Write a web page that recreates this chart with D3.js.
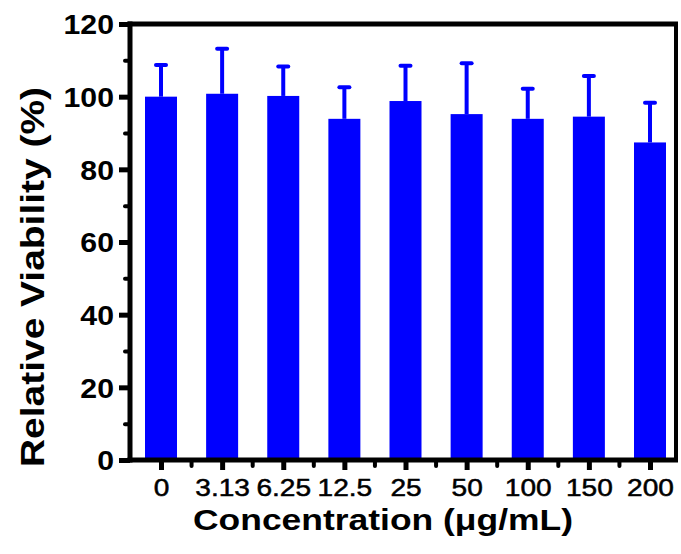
<!DOCTYPE html>
<html>
<head>
<meta charset="utf-8">
<script src="https://cdn.jsdelivr.net/npm/d3@7"></script>
<style>
  html, body { margin: 0; padding: 0; background: #fff; }
  svg { display: block; }
</style>
</head>
<body>
<svg id="chart" width="681" height="554"></svg>
<script>
const categories = ["0", "3.13", "6.25", "12.5", "25", "50", "100", "150", "200"];
const viability = [100, 100.8, 100.2, 93.9, 98.8, 95.2, 93.9, 94.5, 87.4];
const errorUp = [8.7, 12.4, 8.1, 8.7, 9.7, 14.0, 8.3, 11.2, 10.9];
const yMajorTicks = [0, 20, 40, 60, 80, 100, 120];
const yMinorTicks = [10, 30, 50, 70, 90, 110];
const xTitle = "Concentration (\u03bcg/mL)";
const yTitle = "Relative Viability (%)";

(function () {
const svg = d3.select("#chart");
const pL = 130, pR = 676, pT = 24, pB = 460;
const font = "'Liberation Sans', Arial, sans-serif";
const blue = "#0000ff";

const y = d3.scaleLinear().domain([0, 120]).range([pB, pT]);
const x = d3.scalePoint().domain(categories).range([161, 650]);
const barW = 32;

function widen(sel, k) {
  sel.each(function () {
    const w = this.getComputedTextLength();
    d3.select(this).attr("textLength", w * k).attr("lengthAdjust", "spacingAndGlyphs");
  });
}

// bars
svg.append("g").selectAll("rect").data(categories).join("rect")
  .attr("x", d => x(d) - barW / 2)
  .attr("width", barW)
  .attr("y", (d, i) => y(viability[i]))
  .attr("height", (d, i) => y(0) - y(viability[i]))
  .attr("fill", blue);

// error bars
const eb = svg.append("g").attr("stroke", blue).attr("stroke-width", 4);
eb.selectAll("line.v").data(categories).join("line").attr("class", "v")
  .attr("x1", d => x(d)).attr("x2", d => x(d))
  .attr("y1", (d, i) => y(viability[i]))
  .attr("y2", (d, i) => y(viability[i] + errorUp[i]));
eb.selectAll("line.c").data(categories).join("line").attr("class", "c")
  .attr("stroke-linecap", "round")
  .attr("x1", d => x(d) - 5).attr("x2", d => x(d) + 5)
  .attr("y1", (d, i) => y(viability[i] + errorUp[i]))
  .attr("y2", (d, i) => y(viability[i] + errorUp[i]));

// y axis major
const yAxis = svg.append("g").attr("transform", `translate(${pL},0)`)
  .call(d3.axisLeft(y).tickValues(yMajorTicks).tickSize(11).tickPadding(5));
yAxis.select(".domain").remove();
yAxis.selectAll(".tick line").attr("stroke", "#000").attr("stroke-width", 5);
yAxis.selectAll(".tick text")
  .attr("font-family", font).attr("font-size", 27).attr("font-weight", "bold")
  .attr("fill", "#000").attr("dy", "0.36em")
  .call(widen, 1.12);

const yMinor = svg.append("g").attr("transform", `translate(${pL},0)`)
  .call(d3.axisLeft(y).tickValues(yMinorTicks).tickSize(5).tickFormat(""));
yMinor.select(".domain").remove();
yMinor.selectAll(".tick line").attr("stroke", "#000").attr("stroke-width", 4).attr("stroke-linecap", "round");

// x axis
const xAxis = svg.append("g").attr("transform", `translate(0,${pB})`)
  .call(d3.axisBottom(x).tickSize(10).tickPadding(9));
xAxis.select(".domain").remove();
xAxis.selectAll(".tick line").attr("stroke", "#000").attr("stroke-width", 5);
xAxis.selectAll(".tick text")
  .attr("font-family", font).attr("font-size", 24)
  .attr("stroke", "#000").attr("stroke-width", 0.5)
  .attr("fill", "#000").attr("dy", "0.71em")
  .call(widen, 1.17);

// x minor ticks at midpoints
const step = x.step();
const xMinorPos = categories.slice(0, -1).map(c => x(c) + step / 2);
svg.append("g").selectAll("line").data(xMinorPos).join("line")
  .attr("x1", d => d).attr("x2", d => d)
  .attr("y1", pB).attr("y2", pB + 6)
  .attr("stroke", "#000").attr("stroke-width", 4).attr("stroke-linecap", "round");

// frame
const frame = svg.append("g").attr("stroke", "#000").attr("fill", "none");
frame.append("line").attr("x1", pL).attr("x2", pL).attr("y1", pT - 2.5).attr("y2", pB + 2.5).attr("stroke-width", 5);
frame.append("line").attr("x1", pL - 2.5).attr("x2", pR + 2).attr("y1", pB).attr("y2", pB).attr("stroke-width", 5);
frame.append("line").attr("x1", pL - 2.5).attr("x2", pR + 2).attr("y1", pT).attr("y2", pT).attr("stroke-width", 5);
frame.append("line").attr("x1", pR).attr("x2", pR).attr("y1", pT).attr("y2", pB).attr("stroke-width", 4);

// titles
svg.append("text")
  .attr("x", 193).attr("y", 530)
  .attr("textLength", 380).attr("lengthAdjust", "spacingAndGlyphs")
  .attr("font-family", font).attr("font-size", 29).attr("font-weight", "bold")
  .attr("fill", "#000")
  .text(xTitle);

svg.append("text")
  .attr("transform", "translate(44,467) rotate(-90)")
  .attr("textLength", 380).attr("lengthAdjust", "spacingAndGlyphs")
  .attr("font-family", font).attr("font-size", 33).attr("font-weight", "bold")
  .attr("fill", "#000")
  .text(yTitle);
})();
</script>
</body>
</html>
